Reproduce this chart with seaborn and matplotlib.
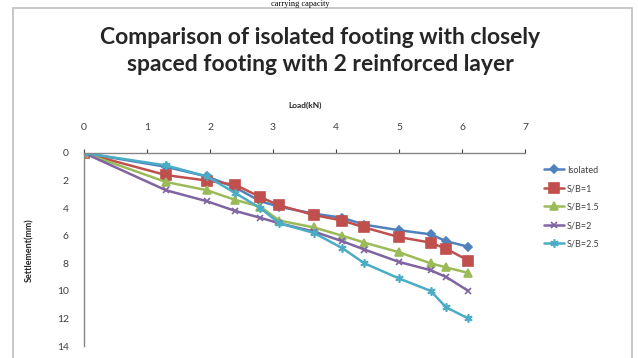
import matplotlib
matplotlib.use("Agg")
import matplotlib.pyplot as plt
import seaborn as sns
import pandas as pd

# load (kN) and settlement (mm)
load     = [0, 1.3, 1.95, 2.4, 2.8, 3.1, 3.65, 4.1, 4.45, 5.0, 5.5, 5.75, 6.1]
isolated = [0, 1.0, 1.7, 2.5, 3.5, 3.9, 4.4, 4.7, 5.2, 5.6, 5.9, 6.4, 6.8]
sb_1     = [0, 1.6, 2.0, 2.3, 3.2, 3.8, 4.5, 4.9, 5.4, 6.1, 6.5, 6.95, 7.8]
sb_1_5   = [0, 2.1, 2.7, 3.4, 3.9, 4.9, 5.4, 6.0, 6.5, 7.2, 8.0, 8.3, 8.7]
sb_2     = [0, 2.7, 3.5, 4.2, 4.7, 5.1, 5.7, 6.4, 7.0, 7.9, 8.5, 9.0, 10.0]
sb_2_5   = [0, 0.9, 1.7, 2.9, 4.0, 5.1, 5.8, 6.9, 8.0, 9.1, 10.0, 11.2, 12.0]

series = {
    "Isolated": isolated,
    "S/B=1": sb_1,
    "S/B=1.5": sb_1_5,
    "S/B=2": sb_2,
    "S/B=2.5": sb_2_5,
}
CORES = {
    "Isolated": "#4F81BD",
    "S/B=1": "#C0504D",
    "S/B=1.5": "#9BBB59",
    "S/B=2": "#8064A2",
    "S/B=2.5": "#4BACC6",
}
MARCAS = {
    "Isolated": ("D", 4.5),
    "S/B=1": ("s", 7),
    "S/B=1.5": ("^", 6),
    "S/B=2": ("x", 5),
    "S/B=2.5": ((6, 2, 0), 6),
}

sns.set_style("white")
plt.rcParams["font.family"] = ["Lato", "DejaVu Sans"]

fig = plt.figure(figsize=(6.38, 3.58), dpi=100)
ax = fig.add_axes([84 / 638, 1 - 346 / 358, 441 / 638, 193 / 358])

for nome, vals in series.items():
    m, ms = MARCAS[nome]
    sns.lineplot(x=load, y=vals, ax=ax, color=CORES[nome], linewidth=1.8,
                 marker=m, markersize=ms, markeredgewidth=1.2,
                 markeredgecolor=CORES[nome], label=nome, sort=False)

ax.set_xlim(0, 7)
ax.set_ylim(14, 0)
ax.set_xticks(range(0, 8))
ax.set_yticks(range(0, 15, 2))
ax.xaxis.tick_top()
ax.xaxis.set_label_position("top")
ax.tick_params(axis="both", labelsize=7.5, colors="#404040", length=3,
               direction="out", width=0.8)
ax.tick_params(axis="x", pad=12)
ax.tick_params(axis="y", pad=8)
for lado in ["right", "bottom"]:
    ax.spines[lado].set_visible(False)
for lado in ["left", "top"]:
    ax.spines[lado].set_color("#868686")
    ax.spines[lado].set_linewidth(1)
ax.set_xlabel("")
ax.set_ylabel("")

fig.text(305 / 638, 1 - 105 / 358, "Load(kN)", ha="center", va="center",
         fontsize=6, fontweight="bold", color="#262626")
fig.text(30 / 638, 1 - 250 / 358, "Settlement(mm)", ha="center", va="center",
         rotation=90, fontsize=6.5, fontweight="bold", color="#262626")

fig.text(320 / 638, 1 - 51 / 358,
         "Comparison of isolated footing with closely\nspaced footing with 2 reinforced layer",
         ha="center", va="center", fontsize=16.5, fontweight="bold",
         color="#262626", linespacing=1.32)

# piece of the page text above the chart
fig.text(300 / 638, 1 - 4 / 358, "carrying capacity", ha="center", va="center",
         fontsize=6, family="Liberation Serif", color="black")

leg = ax.legend(loc="upper left", bbox_to_anchor=(540 / 638, 1 - 162 / 358),
                bbox_transform=fig.transFigure, frameon=False, fontsize=6.5,
                handlelength=2.3, labelspacing=1.05, borderaxespad=0,
                handletextpad=0.3)
for t in leg.get_texts():
    t.set_color("#404040")

# chart frame
fig.patches.append(plt.Rectangle((13 / 638, -0.05), 619 / 638, 1 - 8 / 358 + 0.05,
                                 transform=fig.transFigure, fill=False,
                                 edgecolor="#BFBFBF", linewidth=1.2))

plt.savefig("out.png", dpi=100)
